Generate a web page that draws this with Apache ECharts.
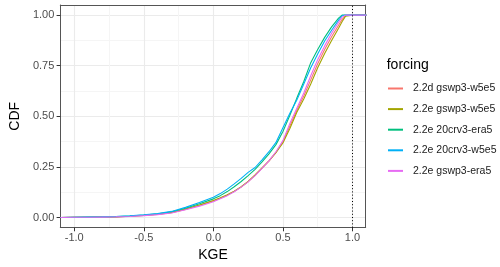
<!DOCTYPE html>
<html>
<head>
<meta charset="utf-8">
<script src="https://cdn.jsdelivr.net/npm/echarts@6/dist/echarts.min.js"></script>
<style>html,body{margin:0;padding:0;background:#fff;}#c{width:500px;height:267px;}</style>
</head>
<body>
<div id="c"></div>
<script>
// KGE grid (x) shared by all series
const kge = [-1.1, -1.0, -0.9, -0.8, -0.7, -0.6, -0.5, -0.4, -0.3, -0.2, -0.1, 0.0, 0.05, 0.1, 0.15, 0.2, 0.25, 0.3, 0.35, 0.4, 0.45, 0.5, 0.55, 0.6, 0.65, 0.7, 0.75, 0.8, 0.85, 0.9, 0.925, 0.95, 1.0, 1.1];
// CDF values per forcing
const cdf_22d_gswp3_w5e5  = [0, 0.001, 0.001, 0.002, 0.003, 0.006, 0.010, 0.015, 0.024, 0.040, 0.060, 0.082, 0.095, 0.110, 0.129, 0.151, 0.177, 0.209, 0.244, 0.280, 0.322, 0.374, 0.452, 0.530, 0.600, 0.680, 0.760, 0.830, 0.893, 0.950, 0.978, 0.998, 1, 1];
const cdf_22e_gswp3_w5e5  = [0, 0.001, 0.001, 0.002, 0.003, 0.006, 0.010, 0.016, 0.025, 0.042, 0.062, 0.084, 0.097, 0.112, 0.130, 0.152, 0.178, 0.210, 0.245, 0.280, 0.320, 0.368, 0.440, 0.520, 0.585, 0.660, 0.740, 0.810, 0.875, 0.935, 0.967, 0.995, 1, 1];
const cdf_22e_20crv3_era5 = [0, 0.001, 0.002, 0.003, 0.004, 0.007, 0.012, 0.018, 0.028, 0.046, 0.068, 0.092, 0.108, 0.128, 0.152, 0.178, 0.207, 0.238, 0.275, 0.314, 0.360, 0.425, 0.505, 0.590, 0.672, 0.765, 0.830, 0.890, 0.942, 0.985, 1, 1, 1, 1];
const cdf_22e_20crv3_w5e5 = [0, 0.001, 0.002, 0.003, 0.005, 0.008, 0.013, 0.019, 0.030, 0.050, 0.074, 0.100, 0.118, 0.140, 0.166, 0.193, 0.223, 0.247, 0.285, 0.325, 0.371, 0.443, 0.515, 0.580, 0.660, 0.740, 0.808, 0.872, 0.925, 0.975, 0.997, 1, 1, 1];
const cdf_22e_gswp3_era5  = [0, 0.001, 0.001, 0.002, 0.003, 0.005, 0.009, 0.014, 0.022, 0.038, 0.056, 0.078, 0.092, 0.108, 0.127, 0.150, 0.176, 0.207, 0.243, 0.280, 0.325, 0.380, 0.465, 0.540, 0.615, 0.700, 0.780, 0.848, 0.910, 0.965, 0.990, 1, 1, 1];

const seriesNames = ['2.2d gswp3-w5e5', '2.2e gswp3-w5e5', '2.2e 20crv3-era5', '2.2e 20crv3-w5e5', '2.2e gswp3-era5'];
const seriesValues = [cdf_22d_gswp3_w5e5, cdf_22e_gswp3_w5e5, cdf_22e_20crv3_era5, cdf_22e_20crv3_w5e5, cdf_22e_gswp3_era5];
const colors = ['#F8766D', '#A3A500', '#00BF7D', '#00B0F6', '#E76BF3'];

const xTicks = [-1.0, -0.5, 0.0, 0.5, 1.0];
const xMinor = [-0.75, -0.25, 0.25, 0.75];
const yTicks = [0, 0.25, 0.5, 0.75, 1.0];
const yMinor = [0.125, 0.375, 0.625, 0.875];
const refLine = [1.0];

const FONT = '"Liberation Sans", Arial, sans-serif';
const xMin = -1.1, xMax = 1.095, yMin = -0.05, yMax = 1.05;

const series = seriesNames.map((name, k) => ({
  name: name,
  type: 'line',
  data: kge.map((x, i) => [x, seriesValues[k][i]]),
  showSymbol: false,
  symbol: 'none',
  lineStyle: { color: colors[k], width: 1.1 },
  itemStyle: { color: colors[k] },
  clip: true,
  z: 3
}));
series[series.length - 1].markLine = {
  silent: true,
  symbol: 'none',
  label: { show: false },
  lineStyle: { color: '#000', type: [1, 2.2], width: 1 },
  data: refLine.map(v => ({ xAxis: v }))
};

const chart = echarts.init(document.getElementById('c'), null, { renderer: 'canvas' });
chart.setOption({
  animation: false,
  backgroundColor: '#fff',
  color: colors,
  title: {
    text: 'forcing', left: 381.7, top: 53,
    textStyle: { fontFamily: FONT, fontSize: 14, fontWeight: 'normal', color: '#000' }
  },
  legend: {
    orient: 'vertical', left: 383, top: 76.5,
    itemWidth: 15, itemHeight: 2, itemGap: 6.6,
    icon: 'rect',
    data: seriesNames.map((n, k) => ({ name: n, itemStyle: { color: colors[k] } })),
    textStyle: { fontFamily: FONT, fontSize: 10.5, color: '#1a1a1a', lineHeight: 14, padding: [0, 0, 0, 5] }
  },
  grid: { left: 46, right: 134.3, top: 5, bottom: 33.7 },
  xAxis: [{
    type: 'value', min: xMin, max: xMax, position: 'bottom',
    name: 'KGE', nameLocation: 'middle', nameGap: 20,
    nameTextStyle: { fontFamily: FONT, fontSize: 14, color: '#000' },
    axisLine: { show: true, onZero: false, lineStyle: { color: '#555', width: 1 } },
    axisTick: { show: true, length: 3.7, customValues: xTicks, lineStyle: { color: '#333' } },
    axisLabel: { customValues: xTicks, margin: 4.5, formatter: v => v.toFixed(1), fontFamily: FONT, fontSize: 11, color: '#4D4D4D' },
    splitLine: { show: true, lineStyle: { color: '#EBEBEB', width: 1.1 } }
  }, {
    type: 'value', min: xMin, max: xMax, position: 'top',
    axisLine: { show: true, onZero: false, lineStyle: { color: '#555', width: 1 } },
    axisTick: { show: false, customValues: xMinor },
    axisLabel: { show: false, customValues: xMinor },
    splitLine: { show: true, lineStyle: { color: '#F5F5F5', width: 1 } }
  }],
  yAxis: [{
    type: 'value', min: yMin, max: yMax, position: 'left',
    name: 'CDF', nameLocation: 'middle', nameGap: 33, nameRotate: 90,
    nameTextStyle: { fontFamily: FONT, fontSize: 14, color: '#000' },
    axisLine: { show: true, onZero: false, lineStyle: { color: '#555', width: 1 } },
    axisTick: { show: true, length: 3.7, customValues: yTicks, lineStyle: { color: '#333' } },
    axisLabel: { customValues: yTicks, margin: 6, formatter: v => v.toFixed(2), fontFamily: FONT, fontSize: 11, color: '#4D4D4D' },
    splitLine: { show: true, lineStyle: { color: '#EBEBEB', width: 1.1 } }
  }, {
    type: 'value', min: yMin, max: yMax, position: 'right',
    axisLine: { show: true, onZero: false, lineStyle: { color: '#555', width: 1 } },
    axisTick: { show: false, customValues: yMinor },
    axisLabel: { show: false, customValues: yMinor },
    splitLine: { show: true, lineStyle: { color: '#F5F5F5', width: 1 } }
  }],
  series: series
});
</script>
</body>
</html>
